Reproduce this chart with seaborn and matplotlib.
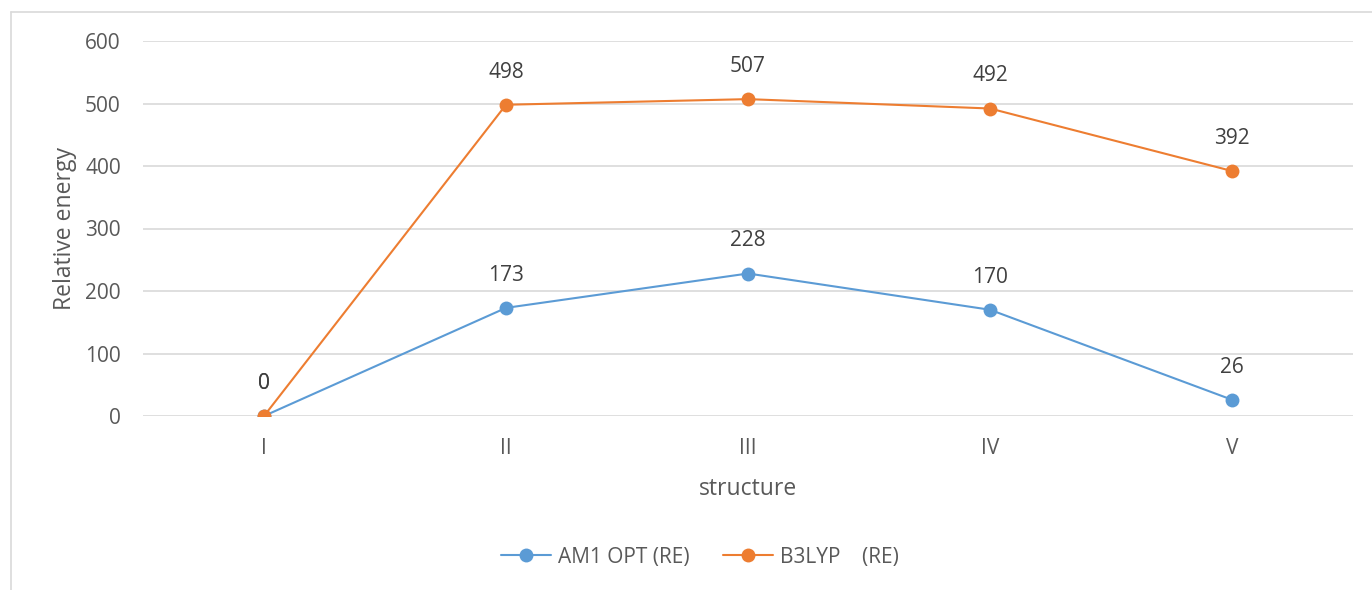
import matplotlib
matplotlib.use("Agg")
import matplotlib.pyplot as plt
import matplotlib.lines as mlines
import pandas as pd
import seaborn as sns

# data
structures = ["I", "II", "III", "IV", "V"]
am1_opt = [0, 173, 228, 170, 26]
b3lyp = [0, 498, 507, 492, 392]
series_names = ["AM1 OPT (RE)", "B3LYP    (RE)"]
colors = ["#5B9BD5", "#ED7D31"]

df = pd.concat([
    pd.DataFrame({"structure": structures, "energy": am1_opt, "series": series_names[0]}),
    pd.DataFrame({"structure": structures, "energy": b3lyp, "series": series_names[1]}),
])

sns.set_style("white")
plt.rcParams["font.family"] = ["Open Sans", "DejaVu Sans"]
text_col = "#595959"

fig = plt.figure(figsize=(13.72, 5.9), dpi=100)
ax = fig.add_axes([143 / 1372, 1 - 416 / 590, 1210 / 1372, 375 / 590])

sns.lineplot(data=df, x="structure", y="energy", hue="series", palette=colors,
             marker="o", markersize=10, markeredgewidth=0, linewidth=1.5,
             sort=False, ax=ax, legend=False)

# data labels
for vals in [am1_opt, b3lyp]:
    for i, v in enumerate(vals):
        ax.annotate(str(v), (i, v), xytext=(0, 16), textcoords="offset points",
                    ha="center", va="bottom", fontsize=15, color="#404040")

ax.set_xlim(-0.5, 4.5)
ax.set_ylim(0, 600)
ax.set_yticks(range(0, 601, 100))
ax.yaxis.grid(True, color="#D9D9D9", linewidth=1.2)
ax.set_axisbelow(True)
for s in ax.spines.values():
    s.set_visible(False)
ax.tick_params(axis="both", length=0, labelsize=15, colors=text_col)
ax.tick_params(axis="y", pad=16)
ax.tick_params(axis="x", pad=16)
ax.set_xlabel("structure", fontsize=16.5, color=text_col, labelpad=13)
ax.set_ylabel("Relative energy", fontsize=16.5, color=text_col, labelpad=6)

handles = [mlines.Line2D([], [], color=c, marker="o", markersize=10,
                         markeredgewidth=0, linewidth=1.5) for c in colors]
fig.legend(handles, series_names, loc="center", bbox_to_anchor=(0.51, 1 - 557 / 590),
           ncol=2, frameon=False, fontsize=15, labelcolor=text_col,
           handlelength=2.4, columnspacing=1.6, handletextpad=0.35)

# chart area border (left and top only visible)
fig.add_artist(mlines.Line2D([11 / 1372, 11 / 1372], [0, 1 - 12 / 590],
                             color="#D9D9D9", linewidth=1.2))
fig.add_artist(mlines.Line2D([11 / 1372, 1], [1 - 12 / 590, 1 - 12 / 590],
                             color="#D9D9D9", linewidth=1.2))

fig.savefig("out.png", dpi=100, facecolor="white")
